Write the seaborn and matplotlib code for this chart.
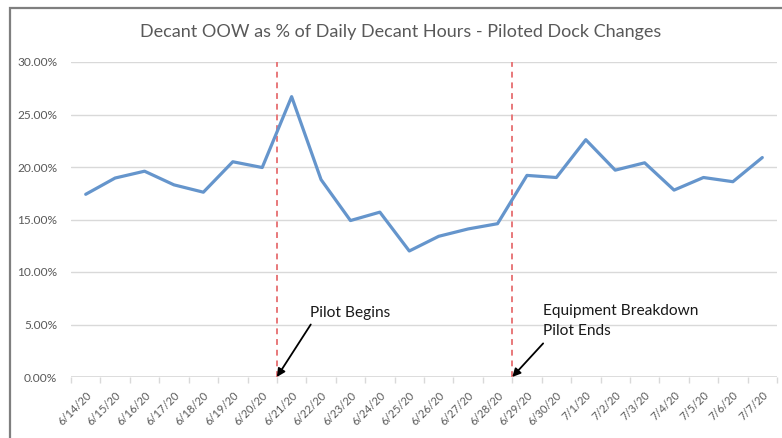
import matplotlib
matplotlib.use("Agg")
import matplotlib.pyplot as plt
import seaborn as sns
import pandas as pd
from matplotlib.ticker import PercentFormatter, FixedLocator
from matplotlib.patches import Rectangle

dates = ["6/14/20", "6/15/20", "6/16/20", "6/17/20", "6/18/20", "6/19/20",
         "6/20/20", "6/21/20", "6/22/20", "6/23/20", "6/24/20", "6/25/20",
         "6/26/20", "6/27/20", "6/28/20", "6/29/20", "6/30/20", "7/1/20",
         "7/2/20", "7/3/20", "7/4/20", "7/5/20", "7/6/20", "7/7/20"]
oow_pct = [0.174, 0.1895, 0.196, 0.183, 0.176, 0.205, 0.1995, 0.267,
           0.188, 0.149, 0.157, 0.120, 0.134, 0.141, 0.146, 0.192,
           0.190, 0.226, 0.197, 0.204, 0.178, 0.190, 0.186, 0.209]
y_ticks = [0.0, 0.05, 0.10, 0.15, 0.20, 0.25, 0.30]
# Dock-change markers sit between two days (half-category positions)
event_positions = [6.5, 14.5]
event_labels = ["Pilot Begins", "Equipment Breakdown\nPilot Ends"]

sns.set_theme(style="white")
plt.rcParams["font.family"] = ["Lato", "DejaVu Sans"]

W, H = 782, 438
fig = plt.figure(figsize=(W / 100, H / 100), dpi=100)
fig.patch.set_facecolor("white")

# chart frame
fig.add_artist(Rectangle((10 / W, -0.02), 1.0, 1 - 8 / H + 0.02,
                         transform=fig.transFigure, fill=False,
                         edgecolor="#7f7f7f", linewidth=1.6))

ax = fig.add_axes([71 / W, 1 - 377 / H, (777 - 71) / W, (377 - 62) / H])

df = pd.DataFrame({"idx": range(len(dates)), "date": dates, "pct": oow_pct})
sns.lineplot(data=df, x="idx", y="pct", ax=ax, color="#6595cc",
             linewidth=2.3, solid_joinstyle="round")

ax.set_xlim(-0.5, len(dates) - 0.5)
ax.set_ylim(0, 0.30)
ax.set_yticks(y_ticks)
ax.yaxis.set_major_formatter(PercentFormatter(1.0, decimals=2))
ax.grid(axis="y", color="#d9d9d9", linewidth=1.0)
ax.grid(axis="x", visible=False)
for s in ax.spines.values():
    s.set_visible(False)
ax.axhline(0, color="#d9d9d9", linewidth=1.2, zorder=0)

ax.set_xticks(range(len(dates)))
ax.set_xticklabels(dates, rotation=45, ha="right", rotation_mode="anchor")
ax.xaxis.set_minor_locator(FixedLocator([i - 0.5 for i in range(len(dates) + 1)]))
ax.tick_params(axis="x", which="major", length=0, pad=9, labelsize=8,
               labelcolor="#595959")
ax.tick_params(axis="x", which="minor", bottom=True, length=4,
               color="#d9d9d9", width=1.0)
ax.tick_params(axis="y", length=0, pad=10, labelsize=8.6, labelcolor="#595959")
for lbl in ax.get_yticklabels():
    lbl.set_horizontalalignment("right")

ax.set_xlabel("")
ax.set_ylabel("")

for xpos in event_positions:
    ax.axvline(xpos, color="#e8787a", linestyle=(0, (3, 2.5)), linewidth=1.4,
               zorder=1)

arrow_style = dict(arrowstyle="-|>", color="black", lw=1.3,
                   mutation_scale=12, shrinkA=0, shrinkB=0)
ax.annotate("", xy=(event_positions[0], 0.0), xytext=(7.65, 0.050),
            arrowprops=arrow_style)
ax.text(7.62, 0.061, event_labels[0], fontsize=11.2, color="#1a1a1a",
        ha="left", va="center")
ax.annotate("", xy=(event_positions[1], 0.0), xytext=(15.55, 0.032),
            arrowprops=arrow_style)
ax.text(15.53, 0.053, event_labels[1], fontsize=11.2, color="#1a1a1a",
        ha="left", va="center", linespacing=1.55)

fig.text(401 / W, 1 - 32 / H,
         "Decant OOW as % of Daily Decant Hours - Piloted Dock Changes",
         ha="center", va="center", fontsize=13, color="#595959")

fig.savefig("out.png", dpi=100, facecolor="white")
